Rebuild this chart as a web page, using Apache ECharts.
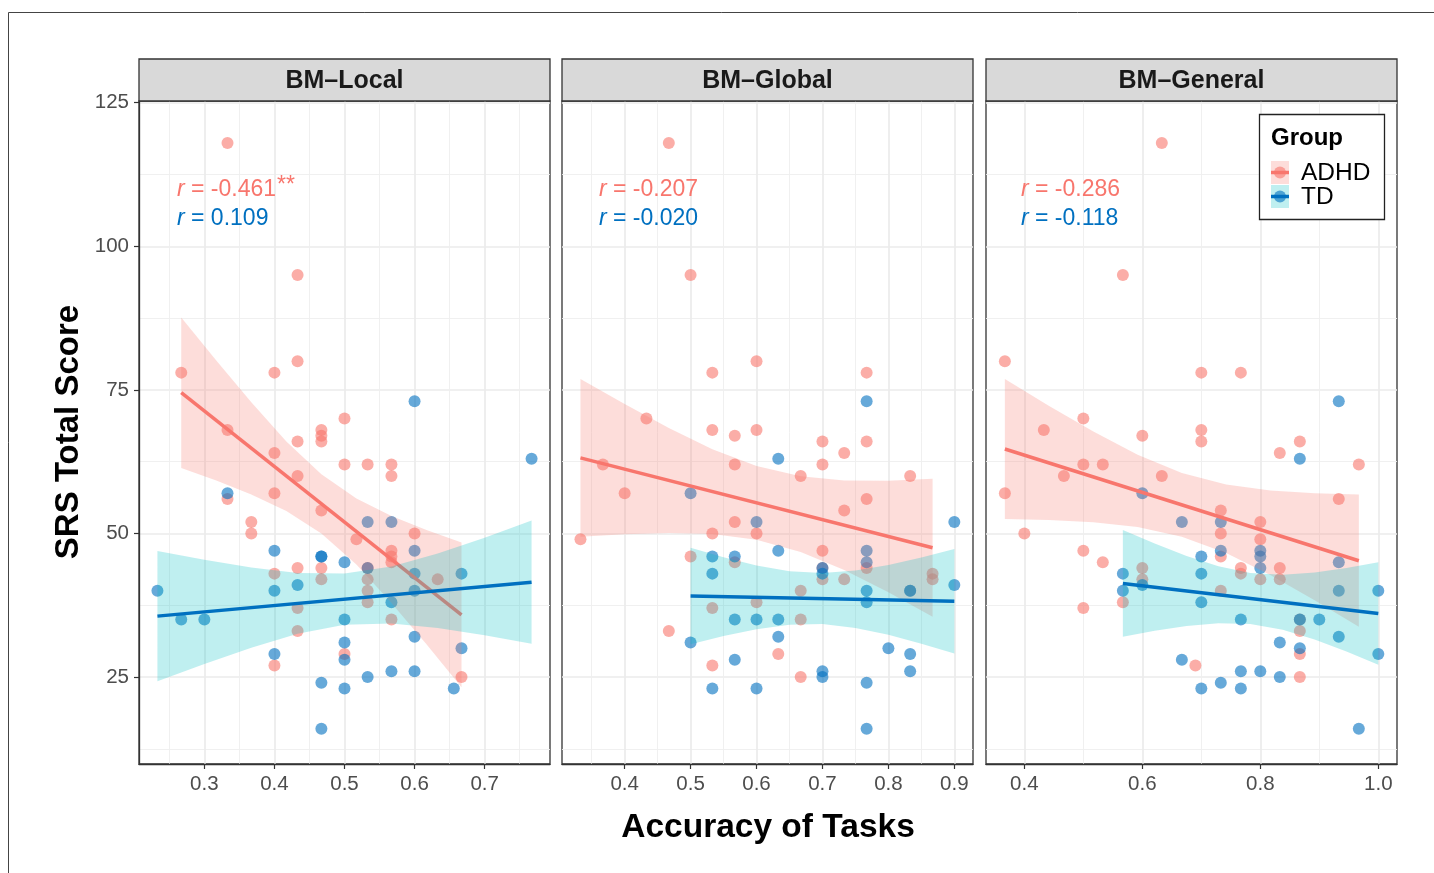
<!DOCTYPE html>
<html><head><meta charset="utf-8">
<script src="https://cdn.jsdelivr.net/npm/echarts@6/dist/echarts.min.js"></script>
<style>html,body{margin:0;padding:0;background:#fff}#c{width:1434px;height:873px}</style>
</head><body><div id="c"></div>
<script>
// ---------------- DATA ----------------
const panelTitles = ['BM–Local', 'BM–Global', 'BM–General'];
const xRanges = [[0.2067, 0.7933], [0.305, 0.9283], [0.335, 1.0317]];
const xTicks = [[0.3, 0.4, 0.5, 0.6, 0.7], [0.4, 0.5, 0.6, 0.7, 0.8, 0.9], [0.4, 0.6, 0.8, 1.0]];
const xMinorTicks = [[0.25, 0.35, 0.45, 0.55, 0.65, 0.75], [0.35, 0.45, 0.55, 0.65, 0.75, 0.85], [0.5, 0.7, 0.9]];
const yRange = [9.85, 125.3];
const yTicks = [25, 50, 75, 100, 125];
const yMinorTicks = [12.5, 37.5, 62.5, 87.5, 112.5];
const rADHD = ['-0.461', '-0.207', '-0.286'];
const rTD = ['0.109', '-0.020', '-0.118'];
const rStars = ['**', '', ''];

// [accuracy, SRS]
const localADHD = [[0.267,78],[0.333,118],[0.333,68],[0.333,56],[0.367,52],[0.367,50],[0.4,78],[0.4,64],[0.4,57],[0.4,43],[0.4,27],[0.433,95],[0.433,80],[0.433,66],[0.433,60],[0.433,44],[0.433,37],[0.433,33],[0.467,68],[0.467,67],[0.467,66],[0.467,54],[0.467,44],[0.467,42],[0.5,70],[0.5,62],[0.5,29],[0.517,49],[0.533,62],[0.533,44],[0.533,42],[0.533,40],[0.533,38],[0.567,62],[0.567,60],[0.567,47],[0.567,46],[0.567,45],[0.567,35],[0.6,50],[0.633,42],[0.667,25]];
const localTD = [[0.233,40],[0.267,35],[0.3,35],[0.333,57],[0.4,47],[0.4,40],[0.4,29],[0.433,41],[0.467,46],[0.467,46],[0.467,24],[0.467,16],[0.5,45],[0.5,35],[0.5,31],[0.5,28],[0.5,23],[0.533,52],[0.533,44],[0.533,25],[0.567,52],[0.567,38],[0.567,26],[0.6,73],[0.6,47],[0.6,43],[0.6,40],[0.6,32],[0.6,26],[0.656,23],[0.667,43],[0.667,30],[0.767,63]];
const globalADHD = [[0.333,49],[0.367,62],[0.4,57],[0.433,70],[0.467,118],[0.467,33],[0.5,95],[0.5,46],[0.533,78],[0.533,68],[0.533,50],[0.533,37],[0.533,27],[0.567,67],[0.567,62],[0.567,52],[0.567,45],[0.6,80],[0.6,68],[0.6,50],[0.6,38],[0.633,29],[0.667,60],[0.667,40],[0.667,35],[0.667,25],[0.7,66],[0.7,62],[0.7,47],[0.7,44],[0.7,42],[0.733,64],[0.733,54],[0.733,42],[0.767,78],[0.767,66],[0.767,56],[0.767,44],[0.833,60],[0.867,43],[0.867,42]];
const globalTD = [[0.5,57],[0.5,31],[0.533,46],[0.533,43],[0.533,23],[0.567,46],[0.567,35],[0.567,28],[0.6,52],[0.6,35],[0.6,23],[0.633,63],[0.633,47],[0.633,35],[0.633,32],[0.7,44],[0.7,43],[0.7,26],[0.7,25],[0.767,73],[0.767,47],[0.767,45],[0.767,40],[0.767,38],[0.767,24],[0.767,16],[0.8,30],[0.833,40],[0.833,40],[0.833,29],[0.833,26],[0.9,52],[0.9,41]];
const generalADHD = [[0.367,80],[0.367,57],[0.4,50],[0.433,68],[0.467,60],[0.5,70],[0.5,62],[0.5,47],[0.5,37],[0.533,62],[0.533,45],[0.567,95],[0.567,38],[0.6,67],[0.6,44],[0.6,42],[0.633,118],[0.633,60],[0.69,27],[0.7,78],[0.7,68],[0.7,66],[0.733,54],[0.733,50],[0.733,46],[0.733,40],[0.767,78],[0.767,44],[0.767,43],[0.8,52],[0.8,49],[0.8,42],[0.833,64],[0.833,44],[0.833,42],[0.867,66],[0.867,35],[0.867,33],[0.867,29],[0.867,25],[0.933,56],[0.967,62]];
const generalTD = [[0.567,43],[0.567,40],[0.6,57],[0.6,41],[0.667,52],[0.667,28],[0.7,46],[0.7,43],[0.7,38],[0.7,23],[0.733,52],[0.733,47],[0.733,24],[0.767,35],[0.767,26],[0.767,23],[0.8,47],[0.8,46],[0.8,44],[0.8,26],[0.833,31],[0.833,25],[0.867,63],[0.867,35],[0.867,30],[0.9,35],[0.933,73],[0.933,45],[0.933,40],[0.933,32],[0.967,16],[1.0,40],[1.0,29]];

// fitted lines
const localADHDFit = [[0.267,74.5],[0.667,35.8]];
const localTDFit = [[0.233,35.6],[0.767,41.5]];
const globalADHDFit = [[0.333,63.15],[0.867,47.5]];
const globalTDFit = [[0.5,39.1],[0.9,38.2]];
const generalADHDFit = [[0.367,64.7],[0.967,45.25]];
const generalTDFit = [[0.567,41.3],[1.0,36.05]];

// confidence bands [x, lower, upper]
const localADHDBand = [[0.267,61.4,87.6],[0.317,59.2,80.1],[0.367,56.8,72.85],[0.417,53.9,66.0],[0.467,50.0,60.3],[0.517,44.6,56.1],[0.567,37.9,53.05],[0.617,30.7,50.6],[0.667,23.2,48.4]];
const localTDBand = [[0.233,24.25,46.95],[0.3,27.26,45.42],[0.367,30.1,44.06],[0.433,32.51,43.11],[0.5,34.08,43.02],[0.567,34.32,44.26],[0.633,33.55,46.49],[0.7,32.27,49.25],[0.767,30.77,52.23]];
const globalADHDBand = [[0.333,49.4,76.9],[0.4,49.86,72.52],[0.467,50.09,68.35],[0.533,49.9,64.68],[0.6,48.92,61.72],[0.667,46.78,59.94],[0.733,43.63,59.23],[0.8,39.74,59.18],[0.867,35.5,59.5]];
const globalTDBand = [[0.5,30.71,47.49],[0.55,32.13,45.85],[0.6,33.33,44.43],[0.65,34.1,43.42],[0.7,34.21,43.09],[0.75,33.55,43.53],[0.8,32.34,44.52],[0.85,30.79,45.83],[0.9,29.09,47.31]];
const generalADHDBand = [[0.367,52.5,76.9],[0.442,52.33,72.21],[0.517,51.94,67.74],[0.592,51.11,63.71],[0.667,49.43,60.53],[0.742,46.58,58.52],[0.817,42.74,57.48],[0.892,38.37,56.99],[0.967,33.73,56.77]];
const generalTDBand = [[0.567,32.01,50.59],[0.621,33.05,48.25],[0.675,33.89,46.09],[0.729,34.38,44.3],[0.783,34.24,43.12],[0.838,33.22,42.8],[0.892,31.53,43.19],[0.946,29.42,43.98],[1.0,27.12,44.98]];

// ---------------- STYLE ----------------
const FONT = "'Liberation Sans', Arial, Helvetica, sans-serif";
const C_ADHD = '#F8766D';
const C_TD = '#0070C0';
const F_ADHD = 'rgba(248,118,109,0.25)';
const F_TD = 'rgba(0,191,196,0.25)';
const gridLefts = [139, 562, 986];
const GW = 411, GTOP = 101, GH = 663, STRIP_TOP = 59;

const panelData = [
  {adhd: localADHD, td: localTD, adhdFit: localADHDFit, tdFit: localTDFit, adhdBand: localADHDBand, tdBand: localTDBand},
  {adhd: globalADHD, td: globalTD, adhdFit: globalADHDFit, tdFit: globalTDFit, adhdBand: globalADHDBand, tdBand: globalTDBand},
  {adhd: generalADHD, td: generalTD, adhdFit: generalADHDFit, tdFit: generalTDFit, adhdBand: generalADHDBand, tdBand: generalTDBand}
];

const grids = [], xAxes = [], yAxes = [], series = [], graphics = [];

for (let i = 0; i < 3; i++) {
  grids.push({left: gridLefts[i], top: GTOP, width: GW, height: GH, show: true,
    borderColor: '#333333', borderWidth: 1.3, backgroundColor: '#fff', containLabel: false});
}
for (let i = 0; i < 3; i++) {
  xAxes.push({
    type: 'value', gridIndex: i, min: xRanges[i][0], max: xRanges[i][1], position: 'bottom',
    axisLine: {show: true, onZero: false, lineStyle: {color: '#333333', width: 1.3}},
    axisTick: {show: true, length: 5, customValues: xTicks[i], lineStyle: {color: '#333333', width: 1.2}},
    axisLabel: {show: true, customValues: xTicks[i], margin: 10, color: '#4D4D4D', fontSize: 20.5, fontFamily: FONT,
      formatter: v => v.toFixed(1)},
    splitLine: {show: true, lineStyle: {color: '#EBEBEB', width: 1.7}}
  });
}
for (let i = 0; i < 3; i++) {
  xAxes.push({
    type: 'value', gridIndex: i, min: xRanges[i][0], max: xRanges[i][1], position: 'bottom',
    axisLine: {show: false}, axisTick: {show: false, customValues: xMinorTicks[i]},
    axisLabel: {show: false, customValues: xMinorTicks[i]},
    splitLine: {show: true, lineStyle: {color: '#EEEEEE', width: 0.9}}
  });
}
for (let i = 0; i < 3; i++) {
  yAxes.push({
    type: 'value', gridIndex: i, min: yRange[0], max: yRange[1],
    axisLine: {show: i === 0, onZero: false, lineStyle: {color: '#333333', width: 1.3}},
    axisTick: {show: i === 0, length: 5, customValues: yTicks, lineStyle: {color: '#333333', width: 1.2}},
    axisLabel: {show: i === 0, customValues: yTicks, margin: 10, color: '#4D4D4D', fontSize: 20.5, fontFamily: FONT},
    splitLine: {show: true, lineStyle: {color: '#EBEBEB', width: 1.7}}
  });
}
for (let i = 0; i < 3; i++) {
  yAxes.push({
    type: 'value', gridIndex: i, min: yRange[0], max: yRange[1],
    axisLine: {show: false}, axisTick: {show: false, customValues: yMinorTicks},
    axisLabel: {show: false, customValues: yMinorTicks},
    splitLine: {show: true, lineStyle: {color: '#EEEEEE', width: 0.9}}
  });
}

function bandSeries(band, gi, color, z) {
  return {
    type: 'custom', xAxisIndex: gi, yAxisIndex: gi, z: z, silent: true,
    data: band, encode: {x: 0, y: [1, 2]},
    renderItem: function (params, api) {
      if (params.dataIndex !== 0) return null;
      const up = band.map(d => api.coord([d[0], d[2]]));
      const lo = band.slice().reverse().map(d => api.coord([d[0], d[1]]));
      return {type: 'polygon', shape: {points: up.concat(lo)}, style: {fill: color}};
    }
  };
}
function scatterSeries(data, gi, color) {
  return {type: 'scatter', xAxisIndex: gi, yAxisIndex: gi, z: 2, data: data, symbolSize: 12,
    itemStyle: {color: color, opacity: 0.6}, silent: true};
}
function lineSeries(data, gi, color, z) {
  return {type: 'line', xAxisIndex: gi, yAxisIndex: gi, z: z, data: data, symbol: 'none',
    lineStyle: {color: color, width: 3.5}, silent: true};
}

for (let i = 0; i < 3; i++) {
  const p = panelData[i];
  series.push(scatterSeries(p.adhd, i, C_ADHD));
  series.push(scatterSeries(p.td, i, C_TD));
  series.push(bandSeries(p.adhdBand, i, F_ADHD, 3));
  series.push(lineSeries(p.adhdFit, i, C_ADHD, 4));
  series.push(bandSeries(p.tdBand, i, F_TD, 5));
  series.push(lineSeries(p.tdFit, i, C_TD, 6));
}

// figure frame (left and top edges)
graphics.push({type: 'polyline', shape: {points: [[8.5, 873], [8.5, 12.5], [1434, 12.5]]},
  style: {stroke: '#444', lineWidth: 1, fill: null}, z: 100});

// strips and annotations
const rPos = [177, 599, 1021];
for (let i = 0; i < 3; i++) {
  graphics.push({type: 'rect', shape: {x: gridLefts[i], y: STRIP_TOP, width: GW, height: GTOP - STRIP_TOP},
    style: {fill: '#D9D9D9', stroke: '#333333', lineWidth: 1.3}, z: 100});
  graphics.push({type: 'text', x: gridLefts[i] + GW / 2, y: (STRIP_TOP + GTOP) / 2 + 1,
    style: {text: panelTitles[i], fill: '#1A1A1A', font: 'bold 25px ' + FONT, textAlign: 'center', textVerticalAlign: 'middle'}, z: 101});
  graphics.push({type: 'text', x: rPos[i], y: 189.5,
    style: {text: '{i|r} = ' + rADHD[i], rich: {i: {fontStyle: 'italic', fill: C_ADHD, fontSize: 23, fontFamily: FONT}},
      fill: C_ADHD, font: '23px ' + FONT, textVerticalAlign: 'middle'}, z: 101});
  graphics.push({type: 'text', x: rPos[i], y: 218.5,
    style: {text: '{i|r} = ' + rTD[i], rich: {i: {fontStyle: 'italic', fill: C_TD, fontSize: 23, fontFamily: FONT}},
      fill: C_TD, font: '23px ' + FONT, textVerticalAlign: 'middle'}, z: 101});
  if (rStars[i]) {
    graphics.push({type: 'text', x: rPos[i] + 100, y: 186,
      style: {text: rStars[i], fill: C_ADHD, font: '23px ' + FONT, textVerticalAlign: 'middle'}, z: 101});
  }
}

// axis titles
graphics.push({type: 'text', x: 69, y: 432, rotation: Math.PI / 2,
  style: {text: 'SRS Total Score', fill: '#000', font: 'bold 33px ' + FONT, textAlign: 'center', textVerticalAlign: 'middle'}, z: 101});
graphics.push({type: 'text', x: 768, y: 828,
  style: {text: 'Accuracy of Tasks', fill: '#000', font: 'bold 33.5px ' + FONT, textAlign: 'center', textVerticalAlign: 'middle'}, z: 101});

// legend
graphics.push({type: 'rect', shape: {x: 1259.5, y: 114.5, width: 125, height: 105},
  style: {fill: '#fff', stroke: '#222', lineWidth: 1.3}, z: 110});
graphics.push({type: 'text', x: 1271, y: 138,
  style: {text: 'Group', fill: '#000', font: 'bold 24px ' + FONT, textVerticalAlign: 'middle'}, z: 111});
const legItems = [['ADHD', C_ADHD, F_ADHD, 172.5], ['TD', C_TD, F_TD, 196.5]];
legItems.forEach(([name, c, f, cy]) => {
  graphics.push({type: 'rect', shape: {x: 1271, y: cy - 11.5, width: 18, height: 23}, style: {fill: f}, z: 111});
  graphics.push({type: 'circle', shape: {cx: 1280, cy: cy, r: 6}, style: {fill: c, opacity: 0.6}, z: 112});
  graphics.push({type: 'line', shape: {x1: 1271, y1: cy, x2: 1289, y2: cy}, style: {stroke: c, lineWidth: 3.5}, z: 113});
  graphics.push({type: 'text', x: 1301, y: cy + 0.5,
    style: {text: name, fill: '#000', font: '24.5px ' + FONT, textVerticalAlign: 'middle'}, z: 111});
});

const chart = echarts.init(document.getElementById('c'), null, {renderer: 'canvas'});
chart.setOption({
  animation: false,
  backgroundColor: '#fff',
  textStyle: {fontFamily: FONT},
  grid: grids, xAxis: xAxes, yAxis: yAxes, series: series,
  graphic: {elements: graphics}
});
</script></body></html>
